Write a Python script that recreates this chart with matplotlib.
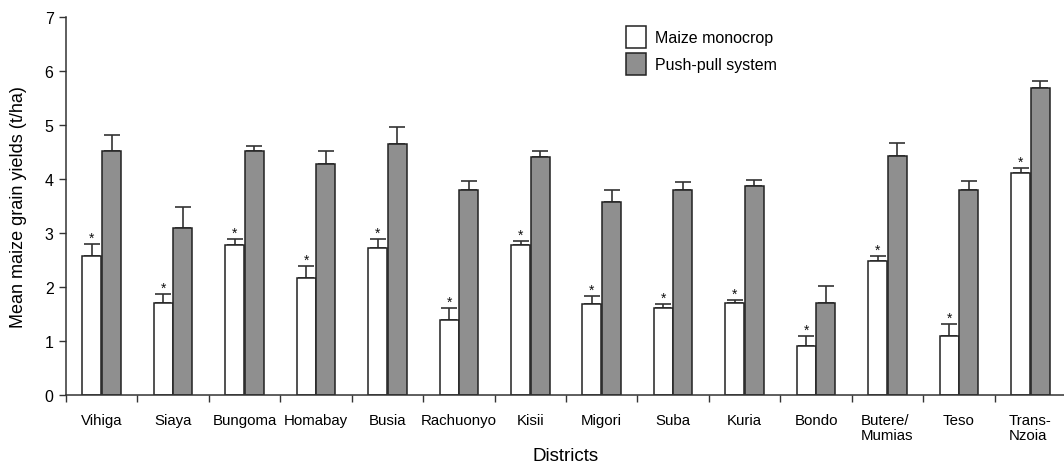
import matplotlib
matplotlib.use("Agg")
import matplotlib.pyplot as plt
import numpy as np

plt.rcParams['font.family'] = ['Liberation Sans', 'DejaVu Sans']

districts = ["Vihiga", "Siaya", "Bungoma", "Homabay", "Busia", "Rachuonyo", "Kisii",
             "Migori", "Suba", "Kuria", "Bondo", "Butere/\nMumias", "Teso", "Trans-\nNzoia"]
monocrop = [2.57, 1.70, 2.78, 2.17, 2.72, 1.39, 2.77, 1.69, 1.61, 1.70, 0.91, 2.48, 1.09, 4.11]
monocrop_err = [0.23, 0.17, 0.11, 0.22, 0.17, 0.22, 0.08, 0.14, 0.08, 0.06, 0.18, 0.09, 0.22, 0.09]
pushpull = [4.51, 3.09, 4.51, 4.28, 4.65, 3.80, 4.41, 3.58, 3.80, 3.87, 1.70, 4.43, 3.80, 5.69]
pushpull_err = [0.30, 0.39, 0.10, 0.23, 0.31, 0.17, 0.10, 0.22, 0.14, 0.11, 0.31, 0.23, 0.17, 0.12]
yticks = [0, 1, 2, 3, 4, 5, 6, 7]

W, H = 1064, 464
fig = plt.figure(figsize=(W / 100, H / 100), dpi=100)
ax = fig.add_axes([66 / W, 1 - 396 / H, 1000 / W, (396 - 18) / H])

x = np.arange(len(districts))
bw = 0.265
off = 0.137
edge = "#222222"
ax.bar(x - off, monocrop, bw, color="white", edgecolor=edge, linewidth=1.1,
       label="Maize monocrop", zorder=2)
ax.bar(x + off, pushpull, bw, color="#8f8f8f", edgecolor=edge, linewidth=1.1,
       label="Push-pull system", zorder=2)
ekw = dict(fmt="none", ecolor="#333333", elinewidth=1.2, capsize=5.5, capthick=1.2, zorder=1)
ax.errorbar(x - off, monocrop, yerr=[np.zeros(len(x)), monocrop_err], **ekw)
ax.errorbar(x + off, pushpull, yerr=[np.zeros(len(x)), pushpull_err], **ekw)

for xi, m, e in zip(x, monocrop, monocrop_err):
    ax.annotate("*", xy=(xi - off, m + e), xytext=(0, -0.5), textcoords="offset points",
                ha="center", va="bottom", fontsize=10, color="#111111")

ax.set_xlim(-0.5, len(districts) - 0.5)
ax.set_ylim(0, 7)
ax.set_yticks(yticks)
ax.set_yticklabels([str(v) for v in yticks], fontsize=11.5)
ax.set_xticks(x)
ax.set_xticklabels(districts, fontsize=10.8, multialignment="left", linespacing=1.05)
ax.tick_params(axis="x", length=0, pad=13)
ax.set_xticks(np.arange(len(districts) + 1) - 0.5, minor=True)
ax.tick_params(axis="x", which="minor", length=5, width=1, color="#333333", direction="out")
ax.tick_params(axis="y", length=5, width=1, color="#333333", direction="out", pad=4)

for s in ["top", "right"]:
    ax.spines[s].set_visible(False)
for s in ["left", "bottom"]:
    ax.spines[s].set_color("#333333")
    ax.spines[s].set_linewidth(1.1)

ax.set_ylabel("Mean maize grain yields (t/ha)", fontsize=13)
ax.yaxis.set_label_coords(-0.039, 0.5)
ax.set_xlabel("Districts", fontsize=13.5)
ax.xaxis.set_label_coords(0.5, -0.137)

leg = ax.legend(loc="upper left", bbox_to_anchor=(626 / W, 1 - 27 / H),
                bbox_transform=fig.transFigure, frameon=False, fontsize=11.5,
                handlelength=1.25, handleheight=1.7, labelspacing=0.35, handletextpad=0.55,
                borderpad=0, borderaxespad=0)

fig.savefig("out.png", dpi=100)
